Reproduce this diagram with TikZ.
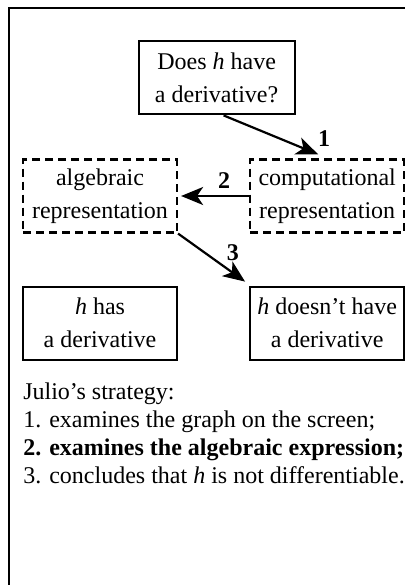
\documentclass[tikz,border=0pt]{standalone}
\usepackage{fontspec}
\setmainfont{Liberation Serif}
\usetikzlibrary{positioning,arrows.meta,calc}
\tikzset{
  jb-box/.style={
    draw, line width=1.1pt, align=center,
    minimum width=77pt, minimum height=36.5pt, inner sep=3pt,
    font=\fontsize{12}{16.5}\selectfont
  },
  jb-dash/.style={jb-box, dash pattern=on 4pt off 2.5pt},
  jb-flow/.style={-{Stealth[length=11pt, width=9pt, inset=3pt]}, line width=1.1pt},
  jb-num/.style={font=\fontsize{12}{14}\selectfont\bfseries, inner sep=1pt},
  jb-text/.style={align=left, inner sep=0pt, font=\fontsize{12}{14}\selectfont}
}

\begin{document}
\begin{tikzpicture}[node distance=21.5pt and 35.5pt]
\clip (0,0) rectangle (202.5pt,-292.5pt);
% frame
\draw[line width=1.1pt] (4.5pt,-300pt) rectangle (210pt,-4pt);

% representations
\node[jb-dash] (alg) at (50pt,-98pt) {algebraic\\representation};
\node[jb-dash, right=of alg] (comp) {computational\\representation};

% question
\coordinate (top) at ($(alg.north)!0.5!(comp.north)$);
\node[jb-box, above=of top, minimum width=78pt, xshift=1.5pt] (q)
  {Does \textit{h} have\\a derivative?};

% conclusions
\node[jb-box, below=26pt of alg] (yes) {\textit{h} has\\a derivative};
\node[jb-box, below=26pt of comp] (no) {\textit{h} doesn't have\\a derivative};

% strategy
\node[jb-text, below=11pt of yes.south west, anchor=north west, xshift=0.5pt] (strat)
  {Julio's strategy:\\
  1. examines the graph on the screen;\\
  \textbf{2. examines the algebraic expression;}\\
  3. concludes that \textit{h} is not differentiable.};

% steps
\draw[jb-flow] ([xshift=3.5pt]q.south) -- ([xshift=-4.5pt, yshift=2pt]comp.north);
\node[jb-num, above=5pt of comp.north, xshift=-1.5pt] (n1) {1};
\draw[jb-flow, shorten >=1.5pt] (comp.west) -- (alg.east)
  node[jb-num, pos=0.35, above=2pt] (n2) {2};
\draw[jb-flow] (alg.south east) -- ([xshift=-2pt, yshift=2pt]no.north west)
  node[jb-num, pos=0.66, above right=1pt] (n3) {3};
\end{tikzpicture}
\end{document}
